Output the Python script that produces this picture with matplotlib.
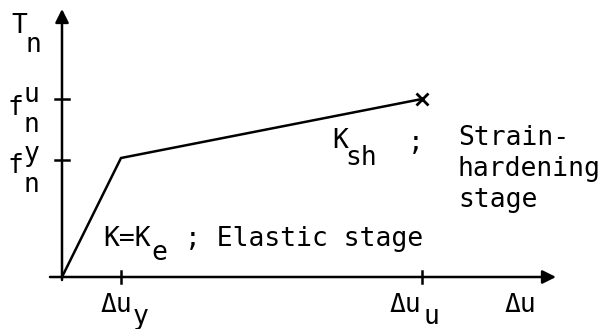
import matplotlib
matplotlib.use("Agg")
import matplotlib.pyplot as plt

# --- data (schematic bilinear strain-hardening model) ---
disp = [0, 59, 360]          # Δu: origin, Δu_y, Δu_u
force = [0, 119, 178]        # T_n: origin, f_n^y, f_n^u
x_ticks = [59, 360]
y_ticks = [117, 178]

FONT = "DejaVu Sans Mono"
FS = 19
LW = 1.8

fig = plt.figure(figsize=(6.04, 3.29), dpi=100)
ax = fig.add_axes([0, 0, 1, 1])
ax.set_xlim(-62, 542)
ax.set_ylim(-52, 277)
ax.axis("off")

# axes with arrows
ax.annotate("", xy=(494, 0), xytext=(-12, 0),
            arrowprops=dict(arrowstyle="-|>", lw=LW, color="black",
                            mutation_scale=20, shrinkA=0, shrinkB=0))
ax.annotate("", xy=(0, 268), xytext=(0, -3),
            arrowprops=dict(arrowstyle="-|>", lw=LW, color="black",
                            mutation_scale=20, shrinkA=0, shrinkB=0))

# ticks
for xt in x_ticks:
    ax.plot([xt, xt], [-6, 6], color="black", lw=LW)
for yt in y_ticks:
    ax.plot([-7, 7], [yt, yt], color="black", lw=LW)

# curve
ax.plot(disp, force, color="black", lw=LW, solid_joinstyle="miter")
ax.plot([disp[-1]], [force[-1]], marker="x", color="black", ms=9, mew=2)

kw = dict(fontsize=FS, family=FONT, ha="left", va="baseline", color="black")

# y-axis labels
ax.text(-51, 244, "T", **kw)
ax.text(-37, 225, "n", **kw)
ax.text(-55, 162, "f", **kw)
ax.text(-38, 145, "u\nn", linespacing=1.2, **kw)
ax.text(-55, 104, "f", **kw)
ax.text(-38, 85, "y\nn", linespacing=1.25, **kw)

# x-axis labels
ax.text(39, -35, "Δu", **kw)
ax.text(71, -47, "y", **kw)
ax.text(328, -35, "Δu", **kw)
ax.text(361, -47, "u", **kw)
ax.text(443, -35, "Δu", **kw)

# annotations
ax.text(41, 31, "K=K", **kw)
ax.text(89, 17, "e", **kw)
ax.text(123, 31, "; Elastic stage", **kw)

ax.text(270, 129, "K", **kw)
ax.text(283, 112, "sh", **kw)
ax.text(346, 127, ";", **kw)
ax.text(396, 70, "Strain-\nhardening\nstage", linespacing=1.24, **kw)

fig.savefig("out.png", dpi=100)
